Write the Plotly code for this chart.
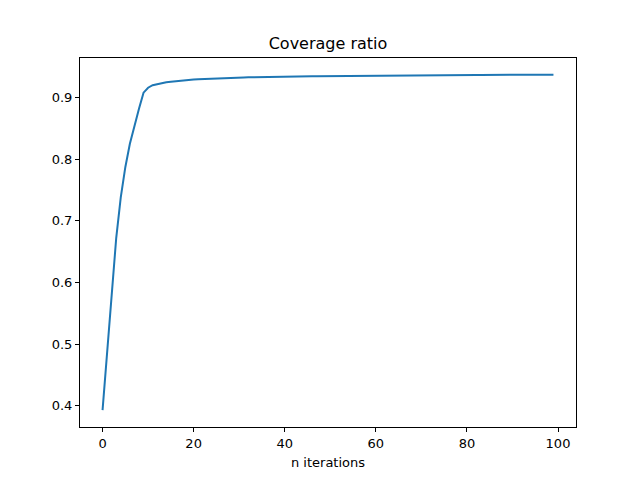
import plotly.graph_objects as go

# iteration index and coverage ratio
iterations = list(range(100))
coverage = [
    0.393, 0.487, 0.581, 0.672, 0.738, 0.787, 0.825, 0.855, 0.882, 0.908,
    0.916, 0.920, 0.922, 0.9235, 0.9248, 0.9258, 0.9267, 0.9275, 0.9282, 0.9288,
    0.9293, 0.9298, 0.9302, 0.9306, 0.9309, 0.9312, 0.9315, 0.9318, 0.9320, 0.9322,
    0.9324, 0.9326, 0.9328, 0.9330, 0.9331, 0.9333, 0.9334, 0.9335, 0.9336, 0.9337,
    0.9338, 0.9339, 0.9340, 0.9341, 0.9342, 0.9343, 0.9344, 0.9344, 0.9345, 0.9346,
    0.9347, 0.9347, 0.9348, 0.9349, 0.9350, 0.9350, 0.9351, 0.9352, 0.9352, 0.9353,
    0.9354, 0.9354, 0.9355, 0.9356, 0.9356, 0.9357, 0.9357, 0.9358, 0.9358, 0.9359,
    0.9360, 0.9360, 0.9361, 0.9361, 0.9362, 0.9362, 0.9363, 0.9363, 0.9364, 0.9364,
    0.9365, 0.9365, 0.9366, 0.9366, 0.9367, 0.9367, 0.9367, 0.9368, 0.9368, 0.9369,
    0.9369, 0.9369, 0.9370, 0.9370, 0.9371, 0.9371, 0.9371, 0.9372, 0.9372, 0.9372,
]

x_ticks = [0, 20, 40, 60, 80, 100]
y_ticks = [0.4, 0.5, 0.6, 0.7, 0.8, 0.9]

fig = go.Figure()
fig.add_trace(go.Scatter(x=iterations, y=coverage, mode='lines',
                         line=dict(color='#1f77b4', width=2), showlegend=False))

# matplotlib-like axes box
axis_style = dict(showline=True, linecolor='black', linewidth=1, mirror=True,
                  showgrid=False, zeroline=False, ticks='outside', ticklen=4,
                  tickcolor='black', tickfont=dict(size=13, color='black'))
fig.update_xaxes(range=[-4.95, 103.95], tickvals=x_ticks,
                 title=dict(text='n iterations', font=dict(size=13, color='black'), standoff=8),
                 **axis_style)
fig.update_yaxes(range=[0.3655, 0.9642], tickvals=y_ticks, tickformat='.1f', **axis_style)

# page body has an 8px margin, so the figure is a bit smaller than the window
fig.update_layout(
    width=632, height=472,
    margin=dict(l=72, r=64, t=50, b=53),
    paper_bgcolor='white', plot_bgcolor='white',
    font=dict(family='DejaVu Sans', color='black'),
    title=dict(text='Coverage ratio', x=0.5, xref='paper', y=1, yref='paper',
               yanchor='bottom', xanchor='center', pad=dict(b=9),
               font=dict(size=16, color='black')),
)
fig.write_html('out.html')
